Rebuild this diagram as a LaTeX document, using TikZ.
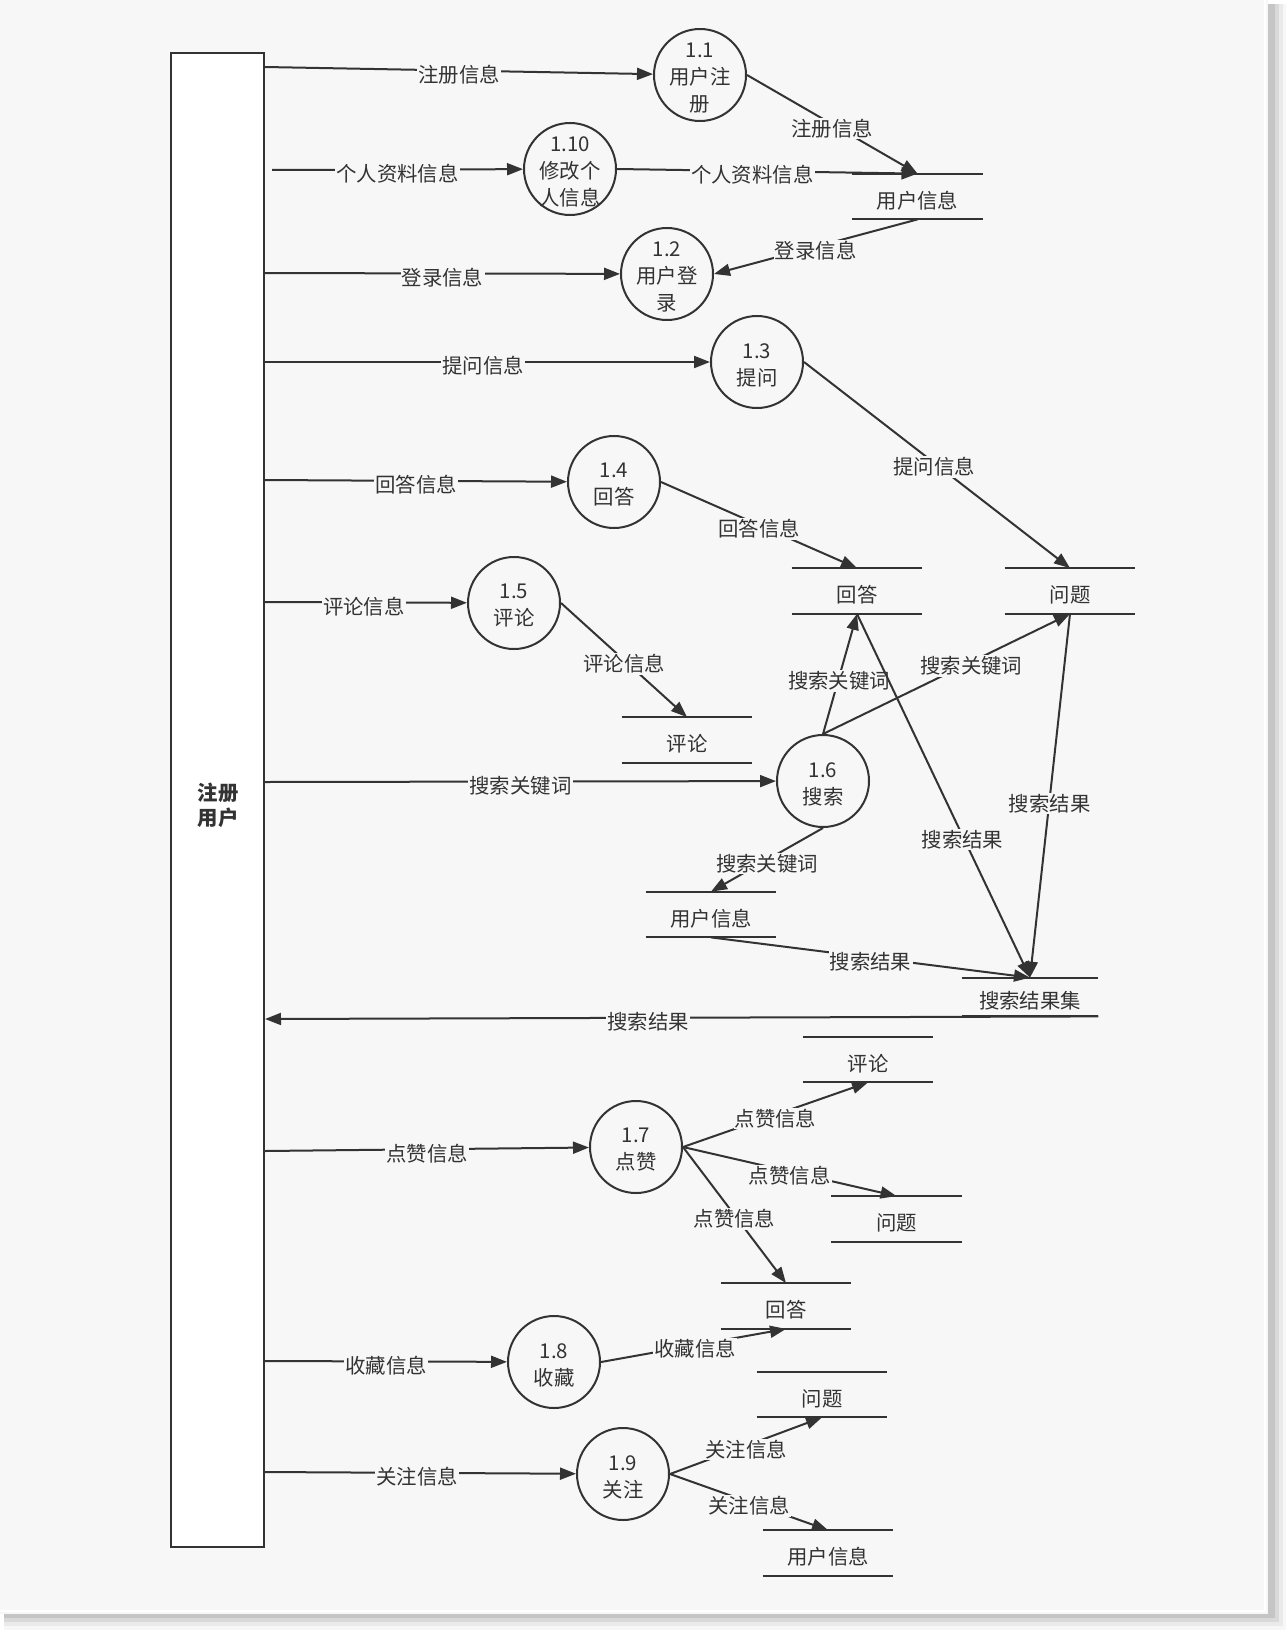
\documentclass[tikz,border=0pt]{standalone}
\usepackage{fontspec}
\setmainfont{Noto Sans CJK SC}
\usetikzlibrary{arrows.meta,calc}
\definecolor{bg}{HTML}{F7F7F7}
\definecolor{ink}{HTML}{333333}
\begin{document}
\begin{tikzpicture}[x=0.5pt,y=-0.5pt,
  font=\fontsize{10.2pt}{13.5pt}\selectfont,
  line/.style={draw=ink, line width=1pt},
  arr/.style={line, -{Triangle[length=8pt,width=6pt]}},
  lbl/.style={fill=bg, inner sep=0.6pt, text=ink, yshift=-2pt},
  proc/.style={circle, draw=ink, line width=1pt, fill=bg, minimum size=46pt, inner sep=0pt},
  ptext/.style={align=center, text=ink, yshift=-1.5pt},
  store/.style={minimum width=65pt, minimum height=22.5pt, inner sep=0pt,
    label={[text=ink, inner sep=0pt, yshift=-2pt]center:#1}},
  entity/.style={draw=ink, line width=1pt, fill=white, minimum width=46.5pt, minimum height=747pt, inner sep=0pt}
]
\useasboundingbox (0,0) rectangle (1288,1632);
% page and shadow
\fill[white] (0,0) rectangle (1288,1632);
\fill[black,opacity=0.03] (4,4) rectangle (1286,1630);
\fill[black,opacity=0.05] (4,4) rectangle (1283,1626);
\fill[black,opacity=0.07] (4,4) rectangle (1279,1622);
\fill[black,opacity=0.09] (4,4) rectangle (1275,1618);
\fill[bg] (0,0) rectangle (1268,1614);
\draw[white, line width=1pt] (1265,0) -- (1265,1611) -- (0,1611);

% external entity
\node[entity] (ent) at (217.5,800) {};
\node[align=center, text=ink, font=\fontsize{10.2pt}{12.5pt}\selectfont\bfseries] (entl) at (218,805) {注册\\用户};

% processes
\node[proc] (p11) at (700,75) {};   \node[ptext] (t11) at (p11) {1.1\\用户注\\册};
\node[proc] (p110) at (570,169) {}; \node[ptext] (t110) at (p110) {1.10\\修改个\\人信息};
\node[proc] (p12) at (667,274) {};  \node[ptext] (t12) at (p12) {1.2\\用户登\\录};
\node[proc] (p13) at (757,362) {};  \node[ptext] (t13) at (p13) {1.3\\提问};
\node[proc] (p14) at (614,482) {};  \node[ptext] (t14) at (p14) {1.4\\回答};
\node[proc] (p15) at (514,603) {};  \node[ptext] (t15) at (p15) {1.5\\评论};
\node[proc] (p16) at (823,781) {};  \node[ptext] (t16) at (p16) {1.6\\搜索};
\node[proc] (p17) at (636,1147) {}; \node[ptext] (t17) at (p17) {1.7\\点赞};
\node[proc] (p18) at (554,1362) {}; \node[ptext] (t18) at (p18) {1.8\\收藏};
\node[proc] (p19) at (623,1474) {}; \node[ptext] (t19) at (p19) {1.9\\关注};

% data stores
\node[store=用户信息] (ui1) at (917.5,196.5) {};
\node[store=回答] (ans1) at (857,591) {};
\node[store=问题] (q1) at (1070,591) {};
\node[store=评论] (cm1) at (687,740) {};
\node[store=用户信息] (ui2) at (711,914.5) {};
\node[store=搜索结果集, minimum width=68pt, minimum height=19pt] (res) at (1030,997) {};
\node[store=评论] (cm2) at (868,1059.5) {};
\node[store=问题] (q2) at (896.5,1219) {};
\node[store=回答] (ans2) at (786,1306) {};
\node[store=问题] (q3) at (822,1394.5) {};
\node[store=用户信息] (ui3) at (828,1553) {};
\foreach \s in {ui1,ans1,q1,cm1,ui2,res,cm2,q2,ans2,q3,ui3}
  \draw[line] (\s.north west) -- (\s.north east) (\s.south west) -- (\s.south east);

\coordinate (c2) at (272,170);

% flows
\draw[arr] (ent.east |- 0,67) -- (p11) node[lbl,pos=0.5] {注册信息};
\draw[arr] (c2) -- (p110) node[lbl,pos=0.5] {个人资料信息};
\draw[arr] (p110.east) -- (ui1.north) node[lbl,pos=0.45] {个人资料信息};
\draw[arr] (p11.east) -- (ui1.north) node[lbl,pos=0.5] {注册信息};
\draw[arr] (ui1.south) -- (p12.east) node[lbl,pos=0.5] {登录信息};
\draw[arr] (ent.east |- 0,273) -- (p12) node[lbl,pos=0.5] {登录信息};
\draw[arr] (ent.east |- 0,362) -- (p13) node[lbl,pos=0.49] {提问信息};
\draw[arr] (p13.east) -- (q1.north) node[lbl,pos=0.49] {提问信息};
\draw[arr] (ent.east |- 0,480) -- (p14) node[lbl,pos=0.5] {回答信息};
\draw[arr] (p14.east) -- (ans1.north) node[lbl,pos=0.5] {回答信息};
\draw[arr] (ent.east |- 0,602) -- (p15) node[lbl,pos=0.49] {评论信息};
\draw[arr] (p15.east) -- (cm1.north) node[lbl,pos=0.5] {评论信息};
\draw[arr] (ent.east |- 0,782) -- (p16) node[lbl,pos=0.5] {搜索关键词};
\draw[arr] (p16.north) -- (ans1.south) node[lbl,pos=0.475] {搜索关键词};
\draw[arr] (p16.north) -- (q1.south) node[lbl,pos=0.6] {搜索关键词};
\draw[arr] (p16.south) -- (ui2.north) node[lbl,pos=0.5] {搜索关键词};
\draw[arr] (ans1.south) -- (res.north) node[lbl,pos=0.61] {搜索结果};
\draw[arr] (q1.south) -- (res.north) node[lbl,pos=0.51] {搜索结果};
\draw[arr] (ui2.south) -- (res.north) node[lbl,pos=0.5] {搜索结果};
\draw[arr] (res.south east) -- (ent.east |- 0,1019) node[lbl,pos=0.54] {搜索结果};
\draw[arr] (ent.east |- 0,1151) -- (p17) node[lbl,pos=0.5] {点赞信息};
\draw[arr] (p17.east) -- (cm2.south) node[lbl,pos=0.5] {点赞信息};
\draw[arr] (p17.east) -- (q2.north) node[lbl,pos=0.5] {点赞信息};
\draw[arr] (p17.east) -- (ans2.north) node[lbl,pos=0.5] {点赞信息};
\draw[arr] (ent.east |- 0,1361) -- (p18) node[lbl,pos=0.5] {收藏信息};
\draw[arr] (p18.east) -- (ans2.south) node[lbl,pos=0.51] {收藏信息};
\draw[arr] (ent.east |- 0,1472) -- (p19) node[lbl,pos=0.49] {关注信息};
\draw[arr] (p19.east) -- (q3.south) node[lbl,pos=0.5] {关注信息};
\draw[arr] (p19.east) -- (ui3.north) node[lbl,pos=0.5] {关注信息};
\end{tikzpicture}
\end{document}
